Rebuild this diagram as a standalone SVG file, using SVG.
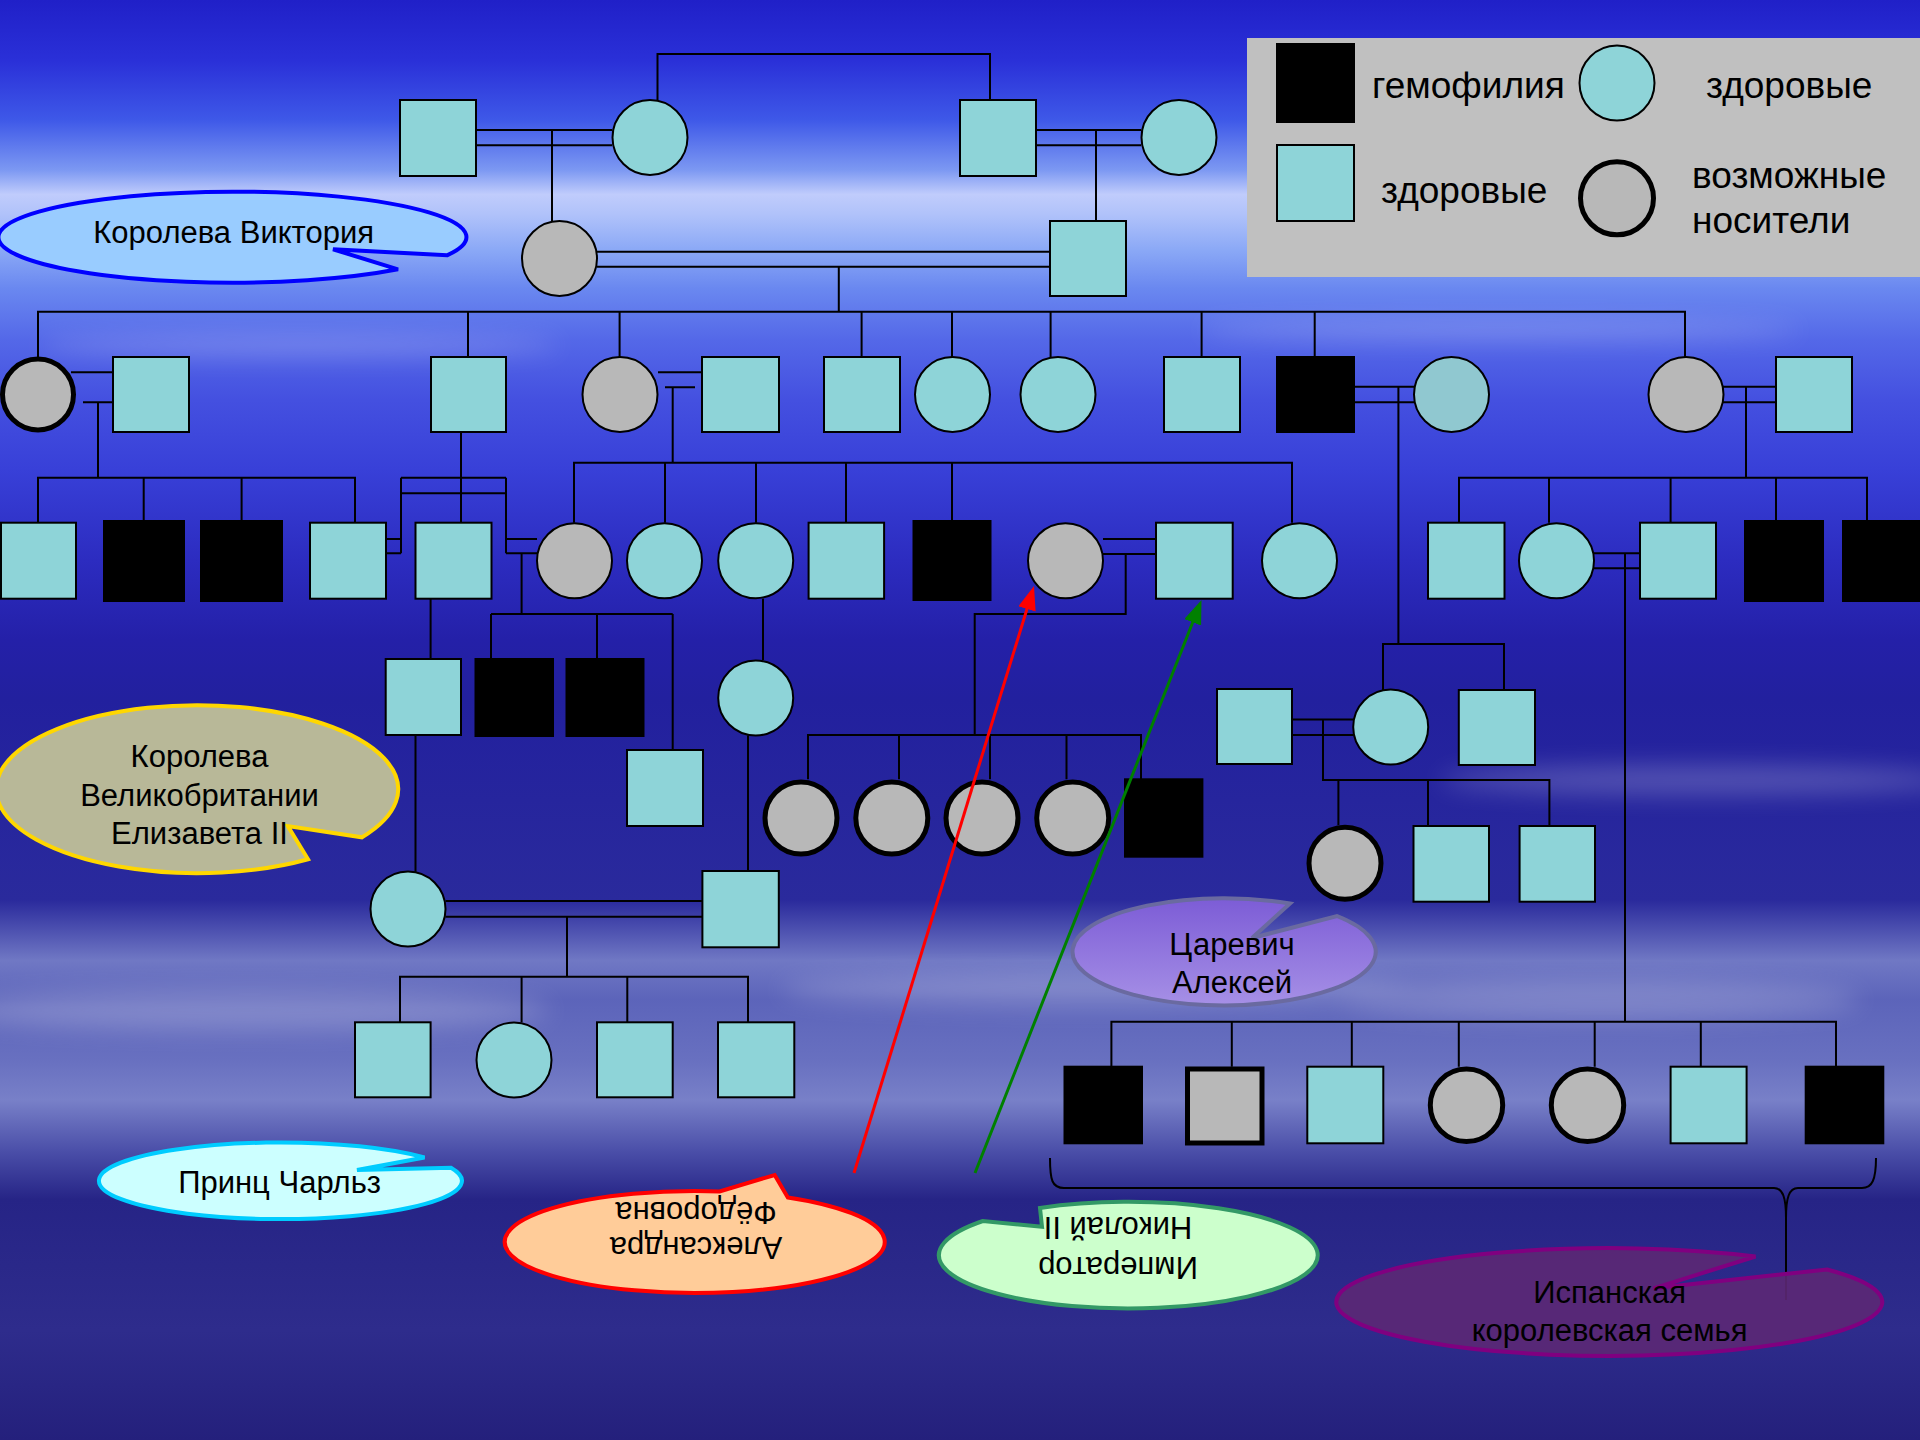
<svg xmlns="http://www.w3.org/2000/svg" width="1920" height="1440" viewBox="0 0 1920 1440">
<defs>
<linearGradient id="bg" x1="0" y1="0" x2="0" y2="1">
<stop offset="0" stop-color="#2020c8"/>
<stop offset="0.042" stop-color="#2a30d8"/>
<stop offset="0.083" stop-color="#3e58e8"/>
<stop offset="0.118" stop-color="#7c98f2"/>
<stop offset="0.135" stop-color="#c0ccfc"/>
<stop offset="0.149" stop-color="#b0c2fa"/>
<stop offset="0.174" stop-color="#8aa8f6"/>
<stop offset="0.2" stop-color="#6a88f0"/>
<stop offset="0.236" stop-color="#5468e8"/>
<stop offset="0.278" stop-color="#4450e0"/>
<stop offset="0.326" stop-color="#3840d8"/>
<stop offset="0.389" stop-color="#2c2cc0"/>
<stop offset="0.444" stop-color="#2420a8"/>
<stop offset="0.486" stop-color="#22209e"/>
<stop offset="0.625" stop-color="#2a2a9c"/>
<stop offset="0.667" stop-color="#7078c4"/>
<stop offset="0.694" stop-color="#5c64ba"/>
<stop offset="0.736" stop-color="#6870c0"/>
<stop offset="0.764" stop-color="#7880c8"/>
<stop offset="0.8" stop-color="#4a4ea8"/>
<stop offset="0.833" stop-color="#262486"/>
<stop offset="0.924" stop-color="#2e2c8c"/>
<stop offset="1" stop-color="#24207c"/>
</linearGradient>
<linearGradient id="purp" x1="0" y1="0" x2="0" y2="1">
<stop offset="0" stop-color="#7c5cd6"/>
<stop offset="1" stop-color="#a690e6"/>
</linearGradient>
<filter id="blur" x="-20%" y="-50%" width="140%" height="200%"><feGaussianBlur stdDeviation="12"/></filter>
<marker id="arR" viewBox="0 0 8 6" refX="4" refY="3" markerWidth="8" markerHeight="6" orient="auto" markerUnits="strokeWidth"><path d="M0,0 L8,3 L0,6 z" fill="#ff0000"/></marker>
<marker id="arG" viewBox="0 0 8 6" refX="4" refY="3" markerWidth="8" markerHeight="6" orient="auto" markerUnits="strokeWidth"><path d="M0,0 L8,3 L0,6 z" fill="#008000"/></marker>
<style>
.h{fill:#8ed4d8;stroke:#000;stroke-width:2}
.h2{fill:#90c8d0;stroke:#000;stroke-width:2}
.c{fill:#b8b8b8;stroke:#000;stroke-width:2}
.ct{fill:#b8b8b8;stroke:#000;stroke-width:5}
.a{fill:#000;stroke:#000;stroke-width:2}
.ln{fill:none;stroke:#000;stroke-width:2}
.t{font-family:"Liberation Sans",Arial,sans-serif;font-size:31px;fill:#000;text-anchor:middle}
.lg{font-family:"Liberation Sans",Arial,sans-serif;font-size:37px;fill:#000}
</style>
</defs>
<rect x="0" y="0" width="1920" height="1440" fill="url(#bg)"/>
<g opacity="0.22" fill="#ffffff" filter="url(#blur)">
<ellipse cx="300" cy="345" rx="260" ry="10"/>
<ellipse cx="1500" cy="330" rx="300" ry="9"/>
<ellipse cx="1700" cy="780" rx="260" ry="14"/>
<ellipse cx="1100" cy="990" rx="320" ry="16"/>
<ellipse cx="250" cy="1010" rx="300" ry="20"/>
<ellipse cx="1600" cy="1000" rx="260" ry="18"/>
</g>

<g id="legend">
<rect x="1247" y="38" width="680" height="239" fill="#c0c0c0"/>
<rect x="1277" y="44" width="77" height="78" class="a"/>
<rect x="1277" y="145" width="77" height="76" class="h"/>
<circle cx="1617" cy="83" r="37.5" class="h"/>
<circle cx="1617" cy="198.3" r="36.5" class="ct"/>
<text x="1372" y="98" class="lg">гемофилия</text>
<text x="1706" y="98" class="lg">здоровые</text>
<text x="1381" y="203" class="lg">здоровые</text>
<text x="1692" y="188" class="lg">возможные</text>
<text x="1692" y="233" class="lg">носители</text>
</g>

<g id="connectors" class="ln">
<path d="M476,130H612M476,145.3H612M552,130V221"/>
<path d="M657.5,100V54H990V100"/>
<path d="M1036,130H1141M1036,145.3H1141M1096,130V221"/>
<path d="M597,251.7H1050M597,266.7H1050M838.8,266.7V311.7"/>
<path d="M38,357V311.7H1685V357M468,311.7V357M619.6,311.7V357M861.6,311.7V357M952,311.7V357M1050.6,311.7V357M1201.6,311.7V357M1314.7,311.7V357"/>
<path d="M71,372.3H113M83,402.3H113M98,402.3V477.7"/>
<path d="M38,522.7V477.7H355V522.7M143.7,477.7V521M241.6,477.7V521"/>
<path d="M461,432V522.7"/>
<path d="M401,477.7H506M401,493.3H506M401,477.7V553.3M385.7,539H401M385.7,553.3H401M506,477.7V553.3M506,539H537M506,553.3H537"/>
<path d="M521.6,553.3V614M491,614H672.7M491,614V659M597,614V659M672.7,614V750"/>
<path d="M658,372.3H702M665,387.3H695M672.7,387.3V462.7"/>
<path d="M574,522.7V462.7H1292V522.7M665,462.7V522.7M756,462.7V522.7M846,462.7V522.7M952,462.7V521"/>
<path d="M1354,386.7H1414M1354,402.3H1414M1398.4,386.7V644M1383,690V644H1504V690"/>
<path d="M1716,386.7H1776M1716,402.3H1776M1746,386.7V477.7M1459,522.7V477.7H1867V521M1549,477.7V522.7M1670.6,477.7V522.7M1776,477.7V521"/>
<path d="M430.6,598.7V659M763,598.7V660M748,735.5V871M415.5,735V871.7"/>
<path d="M1103,539H1156M1103,554H1156M1125.7,554V614H974.7V735M808,779.3V735H1141V779.3M899,735V779.3M990,735V779.3M1066.5,735V779.3"/>
<path d="M1594,553.3H1640M1594,568.3H1640M1625,553.3V1021.7"/>
<path d="M1111.4,1066.7V1021.7H1836V1066.7M1231.8,1021.7V1066.7M1351.8,1021.7V1066.7M1458.8,1021.7V1066.7M1594.7,1021.7V1066.7M1700.8,1021.7V1066.7"/>
<path d="M1292,719.5H1353.5M1292,735H1353.5M1323,719.5V780H1549.4V826M1338.4,780V825M1428,780V826"/>
<path d="M445.7,901H702.4M445.7,916.7H702.4M567,916.7V976.7M400,1022.3V976.7H748V1022.3M521.6,976.7V1022.3M627.3,976.7V1022.3"/>
<path d="M1050,1158C1050,1180 1052,1188 1064,1188H1774C1783,1188 1786,1198 1786,1218C1786,1198 1789,1188 1798,1188H1862C1872,1188 1876,1180 1876,1158M1786,1218V1300"/>
</g>

<g id="n1"><rect x="400" y="100" width="76" height="76" class="h"/></g>
<g id="n2"><circle cx="650" cy="137.5" r="37.5" class="h"/></g>
<g id="n3"><rect x="960" y="100" width="76" height="76" class="h"/></g>
<g id="n4"><circle cx="1179" cy="137.5" r="37.5" class="h"/></g>
<g id="victoria"><circle cx="559.5" cy="258.5" r="37.5" class="c"/></g>
<g id="albert"><rect x="1050" y="221" width="76" height="75" class="h"/></g>

<g id="g2a"><circle cx="38" cy="394.5" r="35.5" class="ct"/></g>
<g id="g2b"><rect x="113" y="357" width="76" height="75" class="h"/></g>
<g id="g2c"><rect x="431" y="357" width="75" height="75" class="h"/></g>
<g id="g2d"><circle cx="620" cy="394.5" r="37.5" class="c"/></g>
<g id="g2e"><rect x="702" y="357" width="77" height="75" class="h"/></g>
<g id="g2f"><rect x="824" y="357" width="76" height="75" class="h"/></g>
<g id="g2g"><circle cx="952.5" cy="394.5" r="37.5" class="h"/></g>
<g id="g2h"><circle cx="1058" cy="394.5" r="37.5" class="h"/></g>
<g id="g2i"><rect x="1164" y="357" width="76" height="75" class="h"/></g>
<g id="g2j"><rect x="1277" y="357" width="77" height="75" class="a"/></g>
<g id="g2k"><circle cx="1451.5" cy="394.5" r="37.5" class="h2"/></g>
<g id="g2l"><circle cx="1686" cy="394.5" r="37.5" class="c"/></g>
<g id="g2m"><rect x="1776" y="357" width="76" height="75" class="h"/></g>

<g id="g3a"><rect x="1" y="522.7" width="75" height="76" class="h"/></g>
<g id="g3b"><rect x="104" y="521" width="80" height="80" class="a"/></g>
<g id="g3c"><rect x="201" y="521" width="81" height="80" class="a"/></g>
<g id="g3d"><rect x="310" y="522.7" width="76" height="76" class="h"/></g>
<g id="g3e"><rect x="415.5" y="522.7" width="76" height="76" class="h"/></g>
<g id="g3f"><circle cx="574.5" cy="560.7" r="37.5" class="c"/></g>
<g id="g3g"><circle cx="664.5" cy="560.7" r="37.5" class="h"/></g>
<g id="g3h"><circle cx="755.7" cy="560.7" r="37.5" class="h"/></g>
<g id="g3i"><rect x="808.6" y="522.7" width="75.5" height="76" class="h"/></g>
<g id="g3j"><rect x="913.5" y="521" width="77" height="79" class="a"/></g>
<g id="alexandra"><circle cx="1065.5" cy="560.7" r="37.5" class="c"/></g>
<g id="nicholas"><rect x="1156" y="522.7" width="76.7" height="76" class="h"/></g>
<g id="g3m"><circle cx="1299.5" cy="560.7" r="37.5" class="h"/></g>
<g id="g3n"><rect x="1428" y="522.7" width="76.5" height="76" class="h"/></g>
<g id="g3o"><circle cx="1556.5" cy="560.7" r="37.5" class="h"/></g>
<g id="g3p"><rect x="1640" y="522.7" width="76" height="76" class="h"/></g>
<g id="g3q"><rect x="1745" y="521" width="78" height="80" class="a"/></g>
<g id="g3r"><rect x="1843" y="521" width="80" height="80" class="a"/></g>

<g id="g4a"><rect x="385.7" y="659" width="75.3" height="76" class="h"/></g>
<g id="g4b"><rect x="475.5" y="659" width="77.5" height="77" class="a"/></g>
<g id="g4c"><rect x="566.5" y="659" width="77" height="77" class="a"/></g>
<g id="g4d"><circle cx="755.7" cy="698" r="37.5" class="h"/></g>
<g id="g4e"><rect x="627" y="750" width="76" height="76" class="h"/></g>
<g id="g4f"><circle cx="801" cy="818" r="36" class="ct"/></g>
<g id="g4g"><circle cx="891.8" cy="818" r="36" class="ct"/></g>
<g id="g4h"><circle cx="982" cy="818" r="36" class="ct"/></g>
<g id="g4i"><circle cx="1072.7" cy="818" r="36" class="ct"/></g>
<g id="alexei"><rect x="1125" y="779.3" width="77.4" height="77.4" class="a"/></g>
<g id="g4k"><rect x="1217" y="689" width="75" height="75" class="h"/></g>
<g id="g4l"><circle cx="1390.7" cy="727" r="37.5" class="h"/></g>
<g id="g4m"><rect x="1458.8" y="690" width="76.2" height="75" class="h"/></g>

<g id="elizabeth"><circle cx="408" cy="909" r="37.5" class="h"/></g>
<g id="philip"><rect x="702.4" y="871" width="76.4" height="76.3" class="h"/></g>
<g id="g5c"><circle cx="1345" cy="863.3" r="36" class="ct"/></g>
<g id="g5d"><rect x="1413.5" y="826" width="75.5" height="75.7" class="h"/></g>
<g id="g5e"><rect x="1519.6" y="826" width="75.4" height="75.7" class="h"/></g>

<g id="charles"><rect x="355" y="1022.3" width="75.6" height="75" class="h"/></g>
<g id="g6b"><circle cx="514" cy="1060" r="37.5" class="h"/></g>
<g id="g6c"><rect x="597" y="1022.3" width="75.7" height="75" class="h"/></g>
<g id="g6d"><rect x="718" y="1022.3" width="76.3" height="75" class="h"/></g>

<g id="s1"><rect x="1064.5" y="1066.7" width="77.5" height="76.6" class="a"/></g>
<g id="s2"><rect x="1187.5" y="1069" width="74.5" height="74" fill="#b8b8b8" stroke="#000" stroke-width="5"/></g>
<g id="s3"><rect x="1307.3" y="1066.7" width="76" height="76.6" class="h"/></g>
<g id="s4"><circle cx="1466.5" cy="1105.3" r="36.2" class="ct"/></g>
<g id="s5"><circle cx="1587.5" cy="1105.3" r="36.2" class="ct"/></g>
<g id="s6"><rect x="1670.6" y="1066.7" width="76" height="76.6" class="h"/></g>
<g id="s7"><rect x="1805.7" y="1066.7" width="77.6" height="76.6" class="a"/></g>

<g id="callout-victoria">
<path d="M447,255.3 A234,45.5 0 1 0 398,269.3 L333,249.3 Z" fill="#99ccff" stroke="#0000ff" stroke-width="4"/>
<text x="233.7" y="242.7" class="t">Королева Виктория</text>
</g>
<g id="callout-elizabeth">
<path d="M362,837.3 A201,84 0 1 0 308,859.3 L287.8,826 Z" fill="#b8b898" stroke="#ffd700" stroke-width="4"/>
<text x="199.5" y="766.7" class="t">Королева</text>
<text x="199.5" y="806" class="t">Великобритании</text>
<text x="199.5" y="844" class="t">Елизавета II</text>
</g>
<g id="callout-charles">
<path d="M451,1167.7 A181.5,38.3 0 1 1 424.5,1157.5 L357,1170 Z" fill="#ccffff" stroke="#00ccff" stroke-width="4"/>
<text x="279.6" y="1192.7" class="t">Принц Чарльз</text>
</g>
<g id="callout-alexei">
<path d="M1337,916 A151.6,53.6 0 1 1 1290,903.5 L1252,938 Z" fill="url(#purp)" stroke="#6a6aa0" stroke-width="4"/>
<text x="1232" y="955" class="t">Царевич</text>
<text x="1232" y="993.3" class="t">Алексей</text>
</g>
<g id="callout-alexandra">
<path d="M787.8,1197.5 A190,51 0 1 1 719.6,1191.4 L774.7,1175 Z" fill="#ffcc99" stroke="#ff0000" stroke-width="4"/>
<g transform="rotate(180 695 1242)">
<text x="694" y="1247.3" class="t">Александра</text>
<text x="694" y="1282.3" class="t">Фёдоровна</text>
</g>
</g>
<g id="callout-nicholas">
<path d="M1040,1208 A189.4,53.3 0 1 1 982.9,1221 L1042,1226.7 Z" fill="#ccffcc" stroke="#339966" stroke-width="4"/>
<g transform="rotate(180 1118.5 1257)">
<text x="1119" y="1257.3" class="t">Император</text>
<text x="1119" y="1297.3" class="t">Николай II</text>
</g>
</g>
<g id="callout-spain">
<path d="M1827,1269.5 A273,53.9 0 1 1 1755.5,1256.5 L1653.5,1288.3 Z" fill="#5c2874" fill-opacity="0.9" stroke="#800080" stroke-width="4"/>
<text x="1609.6" y="1302.7" class="t">Испанская</text>
<text x="1609.6" y="1340.7" class="t">королевская семья</text>
</g>

<g id="arrows" fill="none" stroke-width="3">
<line x1="854" y1="1173" x2="1030.5" y2="597.5" stroke="#ff0000" marker-end="url(#arR)"/>
<line x1="975" y1="1173" x2="1197.1" y2="611.2" stroke="#008000" marker-end="url(#arG)"/>
</g>
</svg>
